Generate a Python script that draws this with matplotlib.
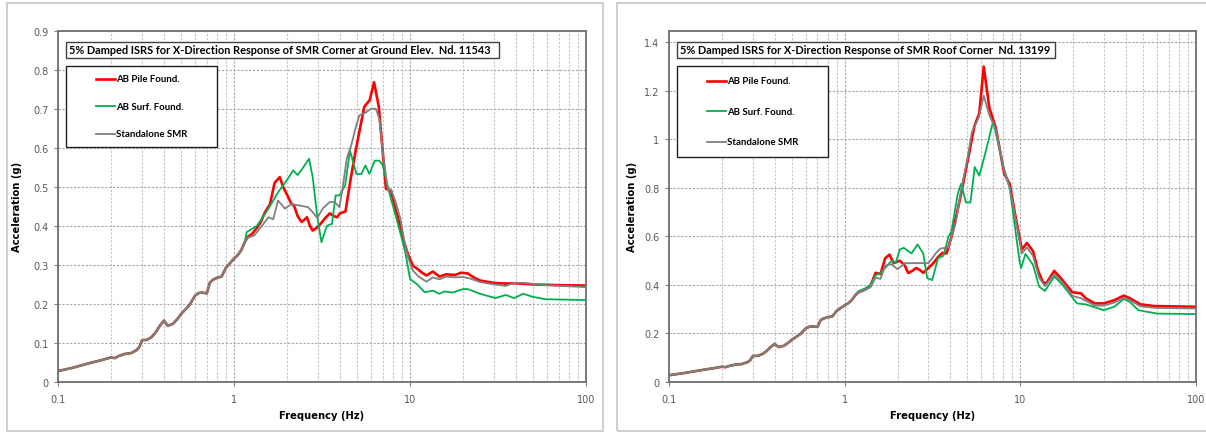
import numpy as np
import matplotlib
matplotlib.use("Agg")
import matplotlib.pyplot as plt
from matplotlib.patches import Rectangle
from matplotlib.lines import Line2D

# shared low frequency part of the spectra (same in both charts)
low_freq = [0.1, 0.12, 0.15, 0.18, 0.2, 0.21, 0.22, 0.24, 0.26, 0.28, 0.29, 0.3, 0.32, 0.34,
            0.36, 0.38, 0.4, 0.42, 0.45, 0.48, 0.5, 0.53, 0.56, 0.6, 0.63, 0.66, 0.7, 0.73,
            0.76, 0.8, 0.85, 0.9, 0.95, 1.0, 1.05, 1.1, 1.15]
low_acc = [0.028, 0.036, 0.048, 0.057, 0.063, 0.061, 0.066, 0.072, 0.074, 0.082, 0.09, 0.107,
           0.108, 0.115, 0.128, 0.145, 0.157, 0.144, 0.149, 0.163, 0.174, 0.186, 0.198, 0.221,
           0.228, 0.229, 0.227, 0.255, 0.262, 0.267, 0.27, 0.293, 0.305, 0.316, 0.325, 0.338, 0.358]

# left chart: ground elevation node 11543
gnd_pile_f = [1.2, 1.27, 1.35, 1.42, 1.5, 1.6, 1.7, 1.82, 1.9, 2.0, 2.1, 2.2, 2.3, 2.42, 2.5, 2.6,
              2.7, 2.8, 2.95, 3.1, 3.3, 3.5, 3.7, 3.85, 4.0, 4.3, 4.6, 4.9, 5.2, 5.5, 5.9, 6.25,
              6.65, 6.95, 7.3, 7.8, 8.3, 8.8, 9.3, 9.8, 10.4, 11.0, 11.7, 12.4, 13.5, 14.7, 16.1,
              18, 19.5, 21.3, 23, 25, 29.8, 35, 39, 50, 70, 100]
gnd_pile_a = [0.372, 0.38, 0.395, 0.41, 0.435, 0.455, 0.51, 0.525, 0.5, 0.48, 0.46, 0.45, 0.425,
              0.41, 0.415, 0.422, 0.4, 0.388, 0.395, 0.405, 0.42, 0.432, 0.425, 0.422, 0.432,
              0.437, 0.52, 0.59, 0.65, 0.705, 0.722, 0.768, 0.705, 0.606, 0.495, 0.49, 0.44, 0.4,
              0.355, 0.324, 0.298, 0.29, 0.28, 0.273, 0.283, 0.27, 0.276, 0.274, 0.28, 0.278,
              0.268, 0.26, 0.254, 0.252, 0.253, 0.25, 0.248, 0.247]

gnd_surf_f = [1.18, 1.35, 1.55, 1.78, 1.99, 2.17, 2.3, 2.45, 2.67, 2.8, 2.97, 3.14, 3.37, 3.6,
              3.78, 3.97, 4.28, 4.56, 4.96, 5.3, 5.58, 5.88, 6.3, 6.7, 7.0, 7.7, 8.6, 9.4, 10,
              11, 12.1, 13.5, 14.7, 15.7, 17.4, 20, 21.3, 25, 30.6, 35, 39, 44, 50, 59, 100]
gnd_surf_a = [0.384, 0.4, 0.44, 0.486, 0.516, 0.542, 0.53, 0.547, 0.572, 0.525, 0.425, 0.358,
              0.4, 0.405, 0.478, 0.478, 0.503, 0.593, 0.533, 0.533, 0.555, 0.533, 0.567, 0.567,
              0.555, 0.478, 0.4, 0.333, 0.264, 0.25, 0.23, 0.234, 0.226, 0.232, 0.229, 0.238,
              0.238, 0.226, 0.215, 0.223, 0.215, 0.226, 0.218, 0.212, 0.21]

gnd_alone_f = [1.2, 1.3, 1.44, 1.57, 1.67, 1.78, 1.95, 2.12, 2.37, 2.63, 2.8, 2.97, 3.2, 3.5,
               3.73, 3.97, 4.15, 4.37, 4.66, 4.9, 5.15, 5.6, 6.0, 6.4, 6.7, 7.0, 7.5, 7.8, 8.3,
               8.8, 9.3, 9.8, 10.4, 11.2, 12.4, 13.5, 14.7, 16.1, 18, 20, 22, 25, 30, 35, 39,
               44, 60, 100]
gnd_alone_a = [0.37, 0.375, 0.4, 0.422, 0.417, 0.465, 0.444, 0.456, 0.452, 0.448, 0.435, 0.42,
               0.445, 0.461, 0.461, 0.448, 0.5, 0.572, 0.61, 0.65, 0.683, 0.69, 0.7, 0.7, 0.674,
               0.589, 0.49, 0.494, 0.46, 0.42, 0.36, 0.316, 0.285, 0.27, 0.257, 0.268, 0.263,
               0.27, 0.268, 0.269, 0.265, 0.256, 0.25, 0.246, 0.254, 0.254, 0.248, 0.243]

# right chart: roof corner node 13199
roof_pile_f = [1.2, 1.3, 1.4, 1.5, 1.6, 1.7, 1.8, 1.9, 2.06, 2.2, 2.3, 2.45, 2.55, 2.7, 2.8, 3.0,
               3.2, 3.4, 3.6, 3.8, 4.1, 4.6, 5.1, 5.47, 5.84, 6.19, 6.66, 7.26, 8.1, 8.7, 9.25,
               10.2, 10.9, 11.8, 12.6, 13.4, 14.0, 15.6, 17.0, 19.8, 22.2, 23.6, 26.5, 29.8,
               34.2, 38.8, 42, 48.3, 58, 100]
roof_pile_a = [0.37, 0.38, 0.395, 0.45, 0.445, 0.51, 0.525, 0.49, 0.5, 0.48, 0.449, 0.46, 0.47,
               0.46, 0.45, 0.47, 0.49, 0.515, 0.532, 0.53, 0.61, 0.775, 0.94, 1.053, 1.108, 1.3,
               1.13, 1.046, 0.858, 0.817, 0.707, 0.546, 0.573, 0.54, 0.46, 0.414, 0.405, 0.458,
               0.428, 0.37, 0.365, 0.345, 0.324, 0.324, 0.337, 0.356, 0.345, 0.32, 0.313, 0.31]

roof_surf_f = [1.2, 1.3, 1.4, 1.5, 1.6, 1.7, 1.85, 1.95, 2.06, 2.17, 2.4, 2.6, 2.8, 2.95, 3.15,
               3.4, 3.65, 3.9, 4.05, 4.4, 4.6, 4.9, 5.2, 5.5, 5.84, 6.3, 7.0, 8.0, 8.7, 9.9, 10.1,
               10.7, 11.8, 12.8, 13.8, 15.6, 17.4, 21, 23.6, 29.8, 34.2, 38.8, 42, 47, 60, 100]
roof_surf_a = [0.375, 0.385, 0.4, 0.44, 0.45, 0.47, 0.5, 0.49, 0.546, 0.553, 0.53, 0.567, 0.53,
               0.428, 0.42, 0.51, 0.52, 0.6, 0.62, 0.775, 0.817, 0.74, 0.74, 0.886, 0.85, 0.94,
               1.074, 0.89, 0.8, 0.497, 0.47, 0.528, 0.483, 0.393, 0.375, 0.435, 0.4, 0.324,
               0.32, 0.296, 0.31, 0.342, 0.33, 0.296, 0.282, 0.28]

roof_alone_f = [1.2, 1.3, 1.4, 1.5, 1.6, 1.7, 1.85, 2.0, 2.2, 2.5, 2.8, 3.0, 3.3, 3.5, 3.9, 4.3,
                4.6, 5.0, 5.3, 5.8, 6.19, 6.66, 7.26, 8.1, 8.7, 9.25, 10.2, 10.9, 11.8, 12.8,
                13.8, 15.6, 17.4, 19.8, 22.2, 26.5, 29.8, 34.2, 38.8, 42, 48.3, 60, 100]
roof_alone_a = [0.37, 0.38, 0.39, 0.43, 0.425, 0.48, 0.485, 0.465, 0.49, 0.49, 0.49, 0.49, 0.53,
                0.55, 0.555, 0.66, 0.79, 0.92, 1.03, 1.09, 1.18, 1.1, 1.04, 0.87, 0.8, 0.7,
                0.53, 0.555, 0.52, 0.43, 0.395, 0.445, 0.41, 0.355, 0.345, 0.315, 0.315, 0.327,
                0.347, 0.337, 0.312, 0.305, 0.303]

labels = ["AB Pile Found.", "AB Surf. Found.", "Standalone SMR"]
colors = ["#ff0000", "#00b050", "#808080"]
widths = [1.9, 1.3, 1.3]

W, H = 1206, 435
fig = plt.figure(figsize=(W / 100, H / 100), dpi=100)


def fx(x):
    return x / W


def fy(y):
    return 1 - y / H


def chart(ax_px, series, ymax, yticks, yfmt, title, title_box, leg_box, leg_rows, ylab_x):
    x0, y0, x1, y1 = ax_px
    ax = fig.add_axes([fx(x0), fy(y1), (x1 - x0) / W, (y1 - y0) / H])
    for (f, a), lab, c, lw in zip(series, labels, colors, widths):
        ax.plot(low_freq + f, low_acc + a, color=c, lw=lw, label=lab, solid_joinstyle="round")
    ax.set_xscale("log")
    ax.set_xlim(0.1, 100)
    ax.set_ylim(0, ymax)
    ax.set_yticks(yticks)
    ax.set_yticklabels([yfmt(v) for v in yticks])
    ax.set_xticks([0.1, 1, 10, 100])
    ax.set_xticklabels(["0.1", "1", "10", "100"])
    ax.grid(True, which="major", color="#a6a6a6", ls=(0, (2, 1.5)), lw=0.8)
    ax.grid(True, which="minor", axis="x", color="#c4c4c4", ls=(0, (2, 1.5)), lw=0.8)
    ax.tick_params(which="major", length=3, width=0.8, color="#808080", labelsize=7,
                   labelcolor="#595959", pad=4)
    ax.tick_params(which="minor", length=0)
    ax.tick_params(axis="x", pad=6)
    for s in ax.spines.values():
        s.set_color("#707070")
        s.set_linewidth(1.3)
    ax.set_xlabel("Frequency (Hz)", fontsize=7.2, fontweight="bold", labelpad=4)
    ax.set_ylabel("Acceleration (g)", fontsize=7.2, fontweight="bold")
    ax.yaxis.set_label_coords((ylab_x - x0) / (x1 - x0), 0.5)

    # title box
    bx0, by0, bx1, by1 = title_box
    fig.patches.append(Rectangle((fx(bx0), fy(by1)), (bx1 - bx0) / W, (by1 - by0) / H,
                                 transform=fig.transFigure, fill=True, facecolor="white",
                                 edgecolor="#404040", lw=1.0, zorder=5))
    fig.text(fx(bx0 + 3), fy((by0 + by1) / 2), title, fontsize=7.9, fontweight="bold",
             family="Lato", va="center", ha="left", zorder=6)

    # legend box
    lx0, ly0, lx1, ly1 = leg_box
    fig.patches.append(Rectangle((fx(lx0), fy(ly1)), (lx1 - lx0) / W, (ly1 - ly0) / H,
                                 transform=fig.transFigure, fill=True, facecolor="white",
                                 edgecolor="#202020", lw=1.0, zorder=5))
    hx0, hx1, rows = leg_rows
    for yy, lab, c, lw in zip(rows, labels, colors, widths):
        fig.lines.append(Line2D([fx(hx0), fx(hx1)], [fy(yy), fy(yy)], color=c, lw=lw,
                                transform=fig.transFigure, zorder=6))
        fig.text(fx(hx1 + 1), fy(yy), lab, fontsize=6.9, fontweight="bold", family="Lato",
                 va="center", ha="left", zorder=6)
    return ax


# panel frames
for px0, px1 in [(7, 603), (617, 1212)]:
    fig.patches.append(Rectangle((fx(px0), fy(432)), (px1 - px0) / W, (432 - 4) / H,
                                 transform=fig.transFigure, fill=False, edgecolor="#d0d0d0",
                                 lw=1.5))

chart((58, 31.7, 586, 383),
      [(gnd_pile_f, gnd_pile_a), (gnd_surf_f, gnd_surf_a), (gnd_alone_f, gnd_alone_a)],
      0.9, [0, 0.1, 0.2, 0.3, 0.4, 0.5, 0.6, 0.7, 0.8, 0.9],
      lambda v: "0" if v == 0 else f"{v:.1f}",
      "5% Damped ISRS for X-Direction Response of SMR Corner at Ground Elev.  Nd. 11543",
      (66, 42.7, 499, 59.3), (66, 66.7, 216.7, 147.7), (96, 115, [80, 107.3, 134.7]), 22)

chart((669, 31.7, 1196, 383),
      [(roof_pile_f, roof_pile_a), (roof_surf_f, roof_surf_a), (roof_alone_f, roof_alone_a)],
      1.448, [0, 0.2, 0.4, 0.6, 0.8, 1.0, 1.2, 1.4],
      lambda v: "0" if v == 0 else ("1" if v == 1 else f"{v:.1f}"),
      "5% Damped ISRS for X-Direction Response of SMR Roof Corner  Nd. 13199",
      (677, 42.7, 1055, 59.3), (677, 66.7, 828, 158.3), (707, 726, [81.7, 112.3, 142.7]), 637)

fig.savefig("out.png", dpi=100)
